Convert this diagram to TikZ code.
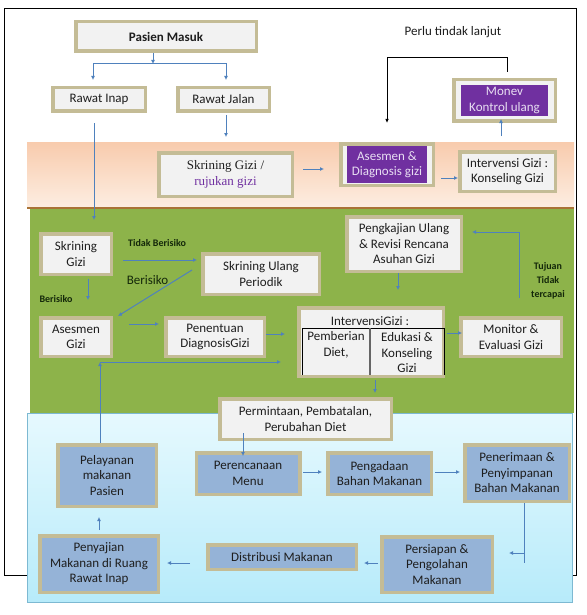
\documentclass[tikz,border=0pt]{standalone}
\usepackage{fontspec}
\setmainfont{Carlito}
\newfontfamily\serifx{Liberation Serif}
\usetikzlibrary{arrows.meta,calc}
\definecolor{tanc}{RGB}{196,188,150}
\definecolor{greyc}{RGB}{242,242,242}
\definecolor{bluec}{RGB}{149,179,215}
\definecolor{purplec}{RGB}{112,48,160}
\definecolor{purtext}{RGB}{232,222,242}
\definecolor{arrc}{RGB}{79,129,189}
\definecolor{textc}{RGB}{30,30,30}
\definecolor{greenc}{RGB}{141,179,74}
\definecolor{labelc}{RGB}{20,40,10}
\definecolor{orgtop}{RGB}{248,203,173}
\definecolor{orgbot}{RGB}{253,238,226}
\definecolor{orgline}{RGB}{170,115,55}
\definecolor{bluetop}{RGB}{230,249,254}
\definecolor{bluebot}{RGB}{183,235,250}
\definecolor{blueline}{RGB}{125,185,210}
\def\boxfont{\fontsize{13}{15.5}\selectfont}
\def\smallfont{\fontsize{10}{14}\selectfont\bfseries}
\tikzset{
  gbox/.style 2 args={draw=tanc, line width=3.5pt, fill=greyc, inner sep=0pt, align=center, text=textc, font=\boxfont, minimum width=#1, minimum height=#2},
  bbox/.style 2 args={gbox={#1}{#2}, fill=bluec},
  pbox/.style 2 args={fill=purplec, inner sep=0pt, align=center, text=purtext, font=\boxfont, minimum width=#1, minimum height=#2},
  arr/.style={draw=arrc, line width=1pt, -{Latex[length=4pt,width=4pt]}},
  blk/.style={draw=black, line width=0.8pt, -{Latex[length=4pt,width=3.5pt]}},
  lbl/.style={text=labelc, font=\smallfont, align=center, inner sep=0pt},
}

\begin{document}
\begin{tikzpicture}[x=1pt, y=-1pt]
	%%%%% START %%%%%
	\useasboundingbox (0,0) rectangle (586,615);
	\fill[white] (0,0) rectangle (586,615);
	
	\draw[line width=0.8pt] (4,8) rectangle (576,575);
	\shade[top color=orgtop, bottom color=orgbot] (27,142) rectangle (574,208);
	\fill[greenc] (30,208) rectangle (574,413);
	\draw[line width=1.5pt, color=orgline] (27,208) -- (574,208);
	\shade[top color=bluetop, bottom color=bluebot, draw=blueline, line width=1pt] (27,413) rectangle (572,602);
	
	% top
	\node[gbox={180.5}{29.5}, font=\boxfont\bfseries] (pasien) at (166,36.5) {Pasien Masuk};
	\node[gbox={92.5}{23.5}] (inap) at (99,99.5) {Rawat Inap};
	\node[gbox={91.5}{23.5}] (jalan) at (223.5,99.5) {Rawat Jalan};
	\node[text=textc, font=\boxfont, inner sep=0pt] (perlu) at (453,32) {Perlu tindak lanjut};
	\node[gbox={101.5}{41.5}] (monev) at (504.5,100.5) {};
	\node[pbox={87}{31}] at (monev) {Monev\\Kontrol ulang};
	
	% orange band
	\node[gbox={133.5}{43.5}, font=\serifx\boxfont] (skrin1) at (225.5,174.5) {Skrining Gizi /\\\textcolor{purplec}{rujukan gizi}};
	\node[gbox={92.5}{41.5}] (asesmen1) at (387,164.5) {};
	\node[pbox={80}{37}] at (asesmen1) {Asesmen \&\\Diagnosis gizi};
	\node[gbox={95.5}{39.5}] (konsel) at (507.5,171.5) {Intervensi Gizi :\\Konseling Gizi};
	
	% green panel
	\node[gbox={70.5}{40.5}] (skrin2) at (76,254) {Skrining\\Gizi};
	\node[gbox={116.5}{40.5}] (ulang) at (261,274) {Skrining Ulang\\Periodik};
	\node[gbox={70.5}{38.5}] (ases2) at (76,337) {Asesmen\\Gizi};
	\node[gbox={98.5}{38.5}] (tentu) at (215,337) {Penentuan\\DiagnosisGizi};
	\node[gbox={114.5}{54.5}] (kaji) at (404,244) {Pengkajian Ulang\\\& Revisi Rencana\\Asuhan Gizi};
	\node[gbox={144.5}{68.5}] (interv) at (371,342) {};
	\node[text=textc, font=\boxfont, inner sep=0pt] (intervt) at (370,321) {IntervensiGizi :};
	\draw[line width=0.9pt] (302,375) -- (302,328) -- (444,328) -- (444,375);
	\draw[line width=1.2pt, color=black!60] (370,328) -- (370,375);
	\node[text=textc, font=\boxfont, align=center, inner sep=0pt] (diet) at (336,345) {Pemberian\\Diet,};
	\node[text=textc, font=\boxfont, align=center, inner sep=0pt] (eduk) at (407,353) {Edukasi \&\\Konseling\\Gizi};
	\node[gbox={100.5}{38.5}] (monitor) at (511,337) {Monitor \&\\Evaluasi Gizi};
	\node[gbox={171.5}{40.5}] (minta) at (305.5,419) {Permintaan, Pembatalan,\\Perubahan Diet};
	
	\node[lbl] (tidak) at (157,243) {Tidak Berisiko};
	\node[text=labelc, font=\boxfont, inner sep=0pt] (beris1) at (147.5,280) {Berisiko};
	\node[lbl] (beris2) at (56,299) {Berisiko};
	\node[lbl] (tujuan) at (548,281) {Tujuan\\Tidak\\tercapai};
	
	% blue panel
	\node[bbox={98.5}{61.5}] (layan) at (107,475.5) {Pelayanan\\makanan\\Pasien};
	\node[bbox={103.5}{41.5}] (rencana) at (248,473.5) {Perencanaan\\Menu};
	\node[bbox={103.5}{41.5}] (adaan) at (379.5,473.5) {Pengadaan\\Bahan Makanan};
	\node[bbox={104.5}{56.5}] (terima) at (517,473) {Penerimaan \&\\Penyimpanan\\Bahan Makanan};
	\node[bbox={110.5}{55.5}] (siap) at (437,564.5) {Persiapan \&\\Pengolahan\\Makanan};
	\node[bbox={148.5}{24.5}] (distrib) at (282,557) {Distribusi Makanan};
	\node[bbox={118.5}{56.5}] (saji) at (99,564) {Penyajian\\Makanan di Ruang\\Rawat Inap};
	
	% connectors
	\coordinate (split) at (153,64);
	\draw[arr] (pasien.south -| split) -- (split);
	\draw[arr, shorten >=6pt] (split) -| ([xshift=-6pt]inap.north);
	\draw[arr, shorten >=6pt] (split) -| ([xshift=2.5pt]jalan.north);
	\draw[arr, shorten <=2pt, shorten >=14pt] ([xshift=2.5pt]jalan.south) -- ([xshift=2.5pt]jalan.south |- skrin1.north);
	\draw[arr, shorten <=10pt, shorten >=12pt] ([xshift=-5pt]inap.south) -- ([xshift=-5pt]inap.south |- skrin2.north);
	\draw[arr, shorten <=9pt, shorten >=15pt] ([yshift=5.5pt]skrin1.east) -- ([yshift=5.5pt]skrin1.east -| asesmen1.west);
	\draw[arr, shorten <=6pt] ([yshift=-6.5pt]konsel.west -| asesmen1.east) -- ([yshift=-6.5pt]konsel.west);
	\draw[arr, shorten <=14pt, shorten >=-4pt] ([xshift=-6.5pt]konsel.north) -- ([xshift=-6.5pt]konsel.north |- monev.south);
	\coordinate (loop) at (387,57);
	\draw[blk, shorten <=6pt, shorten >=19pt] ([xshift=2.5pt]monev.north) |- (loop) -- (loop |- asesmen1.north);
	
	\draw[arr, shorten <=10pt, shorten >=4pt] ([yshift=-6pt]skrin2.east) -- ([yshift=-6pt]skrin2.east -| ulang.west);
	\draw[arr] ([shift={(-9pt,4pt)}]ulang.west) -- ([xshift=5pt]ases2.north east);
	\draw[arr, shorten <=3pt, shorten >=16pt] ([xshift=12pt]skrin2.south) -- ([xshift=12pt]skrin2.south |- ases2.north);
	\draw[arr, shorten <=16pt, shorten >=5pt] ([yshift=13pt]ases2.east) -- ([yshift=13pt]ases2.east -| tentu.west);
	\draw[arr, shorten >=12pt] ([yshift=3pt]tentu.east) -- ([yshift=3pt]tentu.east -| interv.west);
	\coordinate (fb) at (100,362);
	\draw[arr] ([xshift=-7pt]layan.north) -- (fb);
	\draw[arr, shorten >=16pt] (fb) -- (fb -| interv.west);
	\draw[arr, shorten >=16pt] ([xshift=-6pt]kaji.south) -- ([xshift=-6pt]kaji.south |- interv.north);
	\draw[arr, shorten <=2pt, shorten >=-3pt] ([yshift=9pt]interv.east) -- ([yshift=9pt]interv.east -| monitor.west);
	\draw[arr, shorten <=18pt, shorten >=9pt] ([xshift=8pt]monitor.north) |- ([yshift=12pt]kaji.east);
	\draw[arr, shorten <=2pt, shorten >=4pt] ([xshift=4pt]interv.south) -- ([xshift=4pt]interv.south |- minta.north);
	\draw[arr, shorten <=-8pt, shorten >=-5pt] ([xshift=-62.5pt]minta.south) -- ([xshift=-62.5pt]minta.south |- rencana.north);
	
	\draw[arr, shorten <=1.5pt, shorten >=4pt] ([yshift=1.5pt]rencana.east) -- ([yshift=1.5pt]rencana.east -| adaan.west);
	\draw[arr, shorten <=2pt, shorten >=3pt] ([yshift=1.5pt]adaan.east) -- ([yshift=1.5pt]adaan.east -| terima.west);
	\draw[draw=arrc, line width=1pt] ([xshift=7pt]terima.south) -- ++(0,60);
	\draw[arr, shorten >=8pt] ([shift={(7pt,-50pt)}]terima.south) -- ([shift={(7pt,-50pt)}]terima.south -| siap.east);
	\draw[arr, shorten <=2pt, shorten >=6pt] ([yshift=1.5pt]siap.west) -- ([yshift=1.5pt]siap.west -| distrib.east);
	\draw[arr, shorten <=16pt, shorten >=7pt] ([yshift=-6pt]distrib.west) -- ([yshift=-6pt]distrib.west -| saji.east);
	\draw[arr, shorten <=4pt, shorten >=9pt] (saji.north) -- (saji.north |- layan.south);
	%%%%% END %%%%%
\end{tikzpicture}
\end{document}
